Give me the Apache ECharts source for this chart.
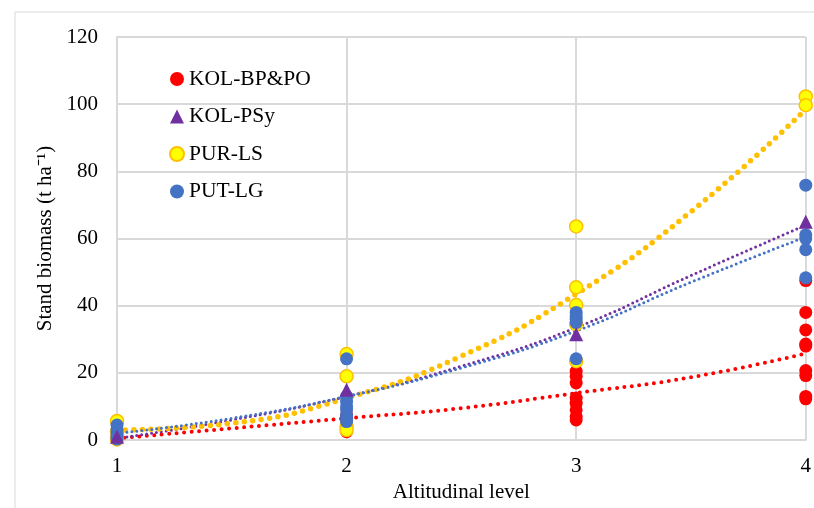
<!DOCTYPE html>
<html>
<head>
<meta charset="utf-8">
<script src="https://cdn.jsdelivr.net/npm/echarts@6/dist/echarts.min.js"></script>
<style>
  body { margin: 0; background: #fff; }
  #chart { width: 814px; height: 508px; }
</style>
</head>
<body>
<div id="chart"></div>
<script>
// observed stand biomass per plot, [altitudinal level, t/ha]
let kolBpPo = [[1, 0.5], [1, 1.2], [2, 2.5], [2, 3.5], [2, 4.5], [2, 6.5], [2, 7.5],
    [3, 20.5], [3, 19], [3, 17], [3, 12.5], [3, 11], [3, 9], [3, 7], [3, 6],
    [4, 47.5], [4, 38], [4, 32.8], [4, 28.6], [4, 28], [4, 20.7], [4, 19.2], [4, 13], [4, 12.3]];
let kolPsy = [[1, 1], [2, 15], [3, 31.5], [4, 65]];
let purLs = [[1, 5.7], [1, 0.2], [1, 2.5], [2, 25.6], [2, 19], [2, 4], [2, 3],
    [3, 63.6], [3, 45.5], [3, 40.2], [3, 34.5], [3, 23.5], [4, 102.3], [4, 99.7]];
let putLg = [[1, 4.5], [1, 3], [1, 2], [1, 1], [1, 0.3],
    [2, 24.2], [2, 13], [2, 11.5], [2, 10], [2, 9], [2, 7.5], [2, 6.5], [2, 5.5],
    [3, 38], [3, 37], [3, 36], [3, 35], [3, 24.2],
    [4, 75.9], [4, 61.1], [4, 60], [4, 56.7], [4, 48.3]];

// trendlines at half steps
let trendX = [1, 1.5, 2, 2.5, 3, 3.5, 4];
let trendKol = [0.5, 3.5, 6.5, 9.5, 14, 18.7, 25.8];
let trendPsy = [0.5, 6, 13, 22, 33.5, 49, 64];
let trendLs = [3, 5, 12.5, 25, 43.5, 68, 98.5];
let trendLg = [2, 6.5, 13, 21.5, 32.5, 47, 60.5];

let font = "Liberation Serif";

function pairs(xs, ys)
{
    let out = [];
    xs.forEach((x, i) => { out.push([x, ys[i]]); });
    return out;
}

function trend(name, ys, colour, width, gap)
{
    return {
        name: name,
        type: 'line',
        data: pairs(trendX, ys),
        smooth: true,
        symbol: 'none',
        silent: true,
        z: 1,
        lineStyle: { color: colour, width: width, type: [0, gap], cap: 'round' }
    };
}

var myChart = echarts.init(document.getElementById('chart'));

let option = {
    backgroundColor: '#fff',
    animation: false,
    graphic: [{
        type: 'rect',
        shape: { x: 15, y: 12, width: 830, height: 540 },
        style: { fill: 'none', stroke: '#d9d9d9', lineWidth: 1 },
        silent: true
    }],
    grid: { left: 117, right: 7, top: 37, bottom: 64 },
    legend: {
        data: [
            { name: 'KOL-BP&PO', icon: 'circle' },
            { name: 'KOL-PSy', icon: 'triangle' },
            { name: 'PUR-LS', icon: 'circle' },
            { name: 'PUT-LG', icon: 'circle' }
        ],
        orient: 'vertical',
        left: 164,
        top: 63,
        itemWidth: 14,
        itemHeight: 14,
        itemGap: 15.5,
        textStyle: { fontFamily: font, fontSize: 21.5, color: '#000' }
    },
    xAxis: {
        type: 'value',
        min: 1,
        max: 4,
        interval: 1,
        name: 'Altitudinal level',
        nameLocation: 'middle',
        nameGap: 30,
        nameTextStyle: { fontFamily: font, fontSize: 21, color: '#000' },
        axisLine: { lineStyle: { color: '#d9d9d9', width: 2 } },
        axisTick: { show: false },
        axisLabel: { fontFamily: font, fontSize: 21, color: '#000', margin: 16 },
        splitLine: { lineStyle: { color: '#d9d9d9', width: 2 } }
    },
    yAxis: {
        type: 'value',
        min: 0,
        max: 120,
        interval: 20,
        name: 'Stand biomass (t ha\u207B\u00B9)',
        nameLocation: 'middle',
        nameGap: 61,
        nameTextStyle: { fontFamily: font, fontSize: 21, color: '#000' },
        axisLine: { show: true, lineStyle: { color: '#d9d9d9', width: 2 } },
        axisTick: { show: false },
        axisLabel: { fontFamily: font, fontSize: 21, color: '#000', margin: 19 },
        splitLine: { lineStyle: { color: '#d9d9d9', width: 2 } }
    },
    series: [
        trend('trend KOL-BP&PO', trendKol, '#ff0000', 4, 7.5),
        trend('trend KOL-PSy', trendPsy, '#7030a0', 3, 5),
        trend('trend PUR-LS', trendLs, '#ffc000', 5.5, 8.5),
        trend('trend PUT-LG', trendLg, '#4472c4', 3, 5),
        {
            name: 'KOL-BP&PO', type: 'scatter', data: kolBpPo, symbol: 'circle', symbolSize: 13,
            clip: false, z: 3, itemStyle: { color: '#ff0000', opacity: 1 }
        },
        {
            name: 'PUR-LS', type: 'scatter', data: purLs, symbol: 'circle', symbolSize: 13,
            clip: false, z: 3, itemStyle: { color: '#ffff00', borderColor: '#ffc000', borderWidth: 1.5, opacity: 1 }
        },
        {
            name: 'PUT-LG', type: 'scatter', data: putLg, symbol: 'circle', symbolSize: 13,
            clip: false, z: 4, itemStyle: { color: '#4472c4', opacity: 1 }
        },
        {
            name: 'KOL-PSy', type: 'scatter', data: kolPsy, symbol: 'triangle', symbolSize: 14,
            clip: false, z: 5, itemStyle: { color: '#7030a0', opacity: 1 }
        }
    ]
};

myChart.setOption(option);
</script>
</body>
</html>
